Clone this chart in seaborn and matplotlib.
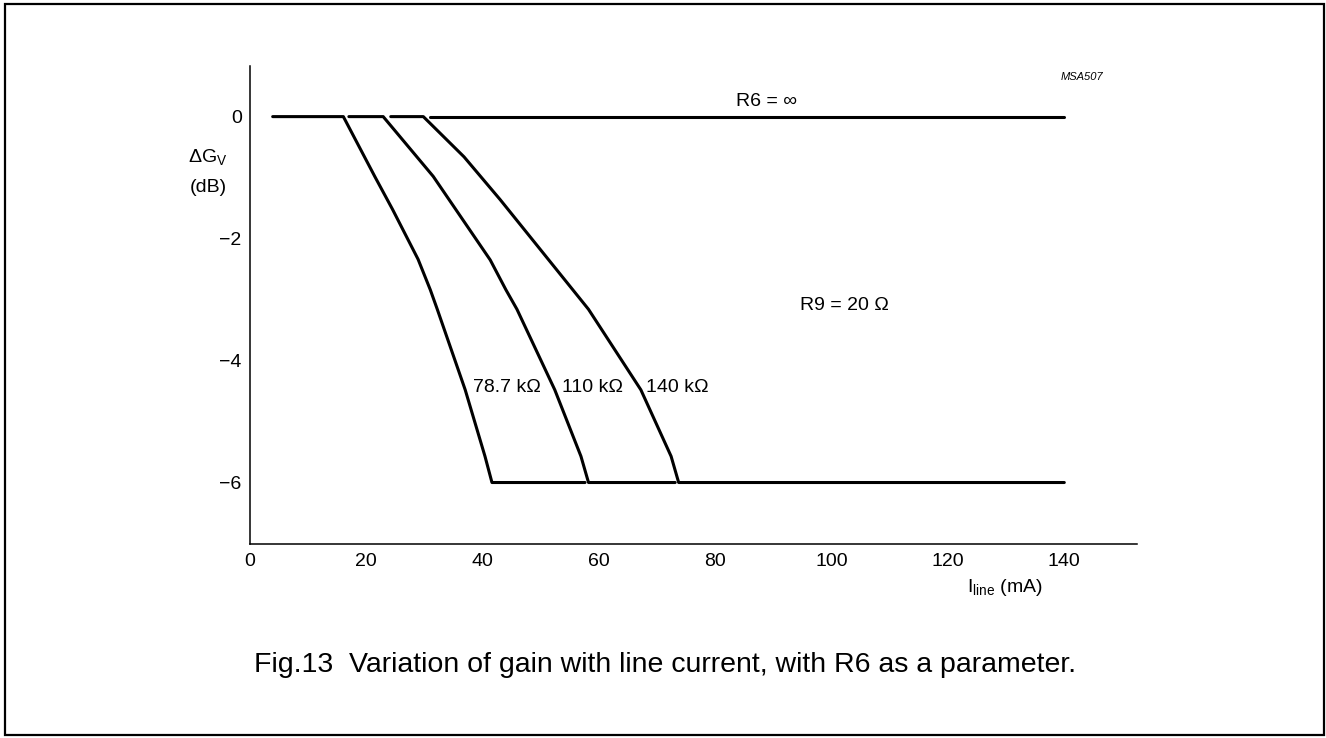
import matplotlib
matplotlib.use("Agg")
import matplotlib.pyplot as plt
import seaborn as sns
import pandas as pd
from matplotlib.patches import Rectangle

# ---- data ----
r6_labels = ["78.7 kΩ", "110 kΩ", "140 kΩ"]

c1_x = [3.9, 16.05, 21.5, 24.5, 28.9, 31.0, 32.2, 37.0, 40.4, 41.6, 57.6]
c1_y = [0, 0, -0.99, -1.52, -2.34, -2.84, -3.16, -4.48, -5.57, -6, -6]

c2_x = [17.0, 22.9, 31.5, 41.3, 44.0, 45.9, 52.4, 56.9, 58.2, 73.1]
c2_y = [0, 0, -0.98, -2.35, -2.84, -3.16, -4.48, -5.57, -6, -6]

c3_x = [24.2, 29.8, 36.8, 43.0, 55.5, 58.2, 67.2, 72.4, 73.7, 140]
c3_y = [0, 0, -0.66, -1.36, -2.84, -3.16, -4.48, -5.57, -6, -6]

inf_x = [31.0, 140]
inf_y = [0, 0]

x_ticks = [0, 20, 40, 60, 80, 100, 120, 140]
y_ticks = [0, -1, -2, -3, -4, -5, -6]
y_ticklabels = ["0", "", "\u22122", "", "\u22124", "", "\u22126"]

# ---- build long table ----
rows = []
for name, xs, ys in [("78.7k", c1_x, c1_y), ("110k", c2_x, c2_y),
                     ("140k", c3_x, c3_y), ("inf", inf_x, inf_y)]:
    for i, (x, y) in enumerate(zip(xs, ys)):
        rows.append({"curve": name, "order": i, "I": x, "G": y})
df = pd.DataFrame(rows)

sns.set_theme(style="white")
plt.rcParams["font.family"] = ["Liberation Sans", "DejaVu Sans"]
plt.rcParams["mathtext.fontset"] = "custom"
plt.rcParams["mathtext.rm"] = "Liberation Sans"
plt.rcParams["text.color"] = "black"
plt.rcParams["axes.labelcolor"] = "black"

W, H = 1326, 738
fig = plt.figure(figsize=(W / 100, H / 100), dpi=100)
ax = fig.add_axes([250 / W, 1 - 543.5 / H, (1137 - 250) / W, (543.5 - 66) / H])

sns.lineplot(data=df, x="I", y="G", units="curve", estimator=None, sort=False,
             color="black", linewidth=2.2, ax=ax, legend=False)
for line in ax.lines:
    line.set_solid_joinstyle("round")

ax.set_xlim(0, 152.5)
ax.set_ylim(-7, 0.83)
ax.set_xticks(x_ticks)
ax.set_xticklabels([str(t) for t in x_ticks])
ax.set_yticks(y_ticks)
ax.set_yticklabels(y_ticklabels)
ax.set_xlabel("")
ax.set_ylabel("")
for s in ["top", "right"]:
    ax.spines[s].set_visible(False)
for s in ["left", "bottom"]:
    ax.spines[s].set_color("black")
    ax.spines[s].set_linewidth(1.1)
ax.tick_params(axis="both", direction="in", length=6.5, width=1.0, colors="black",
               labelsize=14)
ax.tick_params(axis="x", pad=7)
ax.tick_params(axis="y", pad=6)
ax.grid(False)

fs = 14
def px(x, y):
    return x / W, 1 - y / H

fig.text(*px(1082, 77), "MSA507", fontsize=8, style="italic", ha="center", va="center")
fig.text(*px(767, 102), "R6 = \u221e", fontsize=fs, ha="center", va="center")
fig.text(*px(844, 305), "R9 = 20 \u03a9", fontsize=fs, ha="center", va="center")
fig.text(*px(473, 388), r6_labels[0], fontsize=fs, ha="left", va="center")
fig.text(*px(562, 388), r6_labels[1], fontsize=fs, ha="left", va="center")
fig.text(*px(646, 388), r6_labels[2], fontsize=fs, ha="left", va="center")
fig.text(*px(227, 158), r"$\Delta$G$_\mathregular{V}$", fontsize=fs, ha="right", va="center")
fig.text(*px(227, 188), "(dB)", fontsize=fs, ha="right", va="center")
fig.text(*px(967, 587), r"I$_\mathregular{line}$ (mA)", fontsize=fs, ha="left", va="center")
fig.text(*px(665, 665), "Fig.13  Variation of gain with line current, with R6 as a parameter.",
         fontsize=20.5, ha="center", va="center")

fig.patches.append(Rectangle((4.5 / W, 3 / H), (1324 - 4.5) / W, (734.5 - 3) / H,
                             transform=fig.transFigure, fill=False,
                             edgecolor="black", linewidth=1.6))

fig.savefig("out.png", dpi=100, facecolor="white")
